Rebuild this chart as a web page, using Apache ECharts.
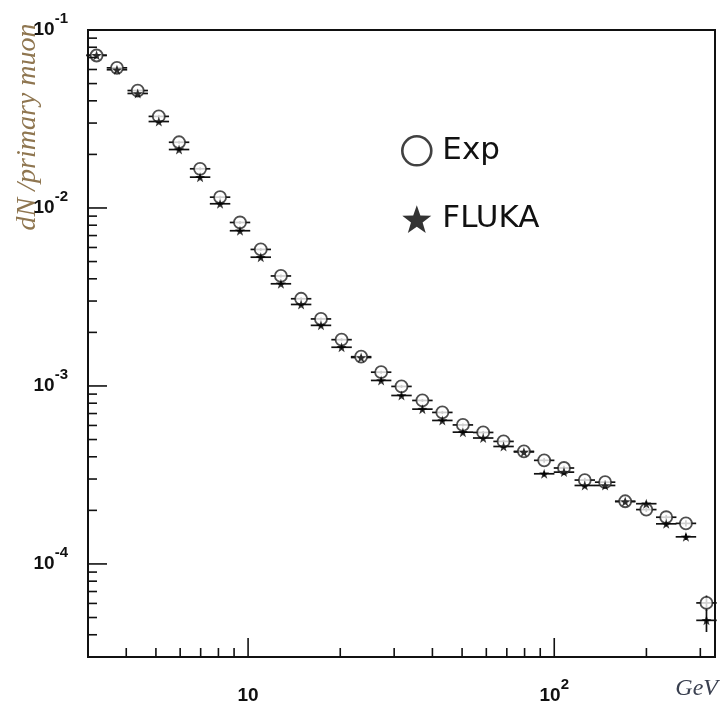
<!DOCTYPE html>
<html><head><meta charset="utf-8">
<script src="https://cdn.jsdelivr.net/npm/echarts@6/dist/echarts.min.js"></script>
<style>html,body{margin:0;padding:0;background:#fff}#c{width:720px;height:715px}</style>
</head><body><div id="c"></div>
<script>
// ---- data ----
const energy = [3.20,3.73,4.36,5.11,5.95,6.97,8.10,9.41,11.0,12.8,14.9,17.3,20.2,23.4,27.2,31.7,37.1,43.1,50.3,58.6,68.3,79.6,92.7,107.6,125.8,146.6,170.5,199.8,232.1,269.2,314.2];
const expValues = [0.0719,0.0613,0.0457,0.0327,0.0234,0.0166,0.0115,0.00829,0.00585,0.00415,0.00309,0.00238,0.00182,0.00146,0.001195,0.000994,0.000829,0.000710,0.000604,0.000548,0.000488,0.000429,0.000382,0.000346,0.000296,0.000288,0.000225,0.000202,0.000183,0.000169,0.0000604];
const flukaValues = [0.0722,0.0598,0.0440,0.0306,0.0213,0.0149,0.01056,0.00745,0.00529,0.00375,0.00287,0.00219,0.00165,0.001445,0.001074,0.000884,0.000741,0.000640,0.000550,0.000510,0.000457,0.000426,0.000321,0.000328,0.000276,0.000276,0.000224,0.000218,0.000168,0.000142,0.0000482];
const expRelErr = [0.02,0.02,0.02,0.02,0.02,0.02,0.02,0.02,0.02,0.02,0.02,0.02,0.02,0.02,0.02,0.02,0.02,0.02,0.02,0.02,0.02,0.02,0.03,0.03,0.03,0.03,0.03,0.03,0.03,0.04,0.10];
const flukaRelErr = [0.02,0.02,0.02,0.02,0.02,0.02,0.02,0.02,0.02,0.02,0.02,0.02,0.02,0.02,0.02,0.02,0.02,0.02,0.02,0.02,0.02,0.02,0.03,0.03,0.03,0.03,0.03,0.03,0.03,0.04,0.14];
const xMajorTicks = [10,100];
const xMinorTicks = [4,5,6,7,8,9,20,30,40,50,60,70,80,90,200,300];
const yMajorTicks = [0.0001,0.001,0.01,0.1];
const yMinorTicks = [0.00004,0.00005,0.00006,0.00007,0.00008,0.00009,0.0002,0.0003,0.0004,0.0005,0.0006,0.0007,0.0008,0.0009,0.002,0.003,0.004,0.005,0.006,0.007,0.008,0.009,0.02,0.03,0.04,0.05,0.06,0.07,0.08,0.09];
const seriesNames = ['Exp','FLUKA'];
const yTitle = 'dN /primary muon';
const xUnit = 'GeV';

// ---- styling constants ----
const X_MIN = 3, X_MAX = 335, Y_MIN = 3e-5, Y_MAX = 0.1;
const BIN = 1.08; // half bin width factor (log scale)
const INK = '#111';
const STAR = 'path://M12,0L14.82,8.12L23.41,8.29L16.57,13.48L19.05,21.71L12,16.8L4.95,21.71L7.43,13.48L0.59,8.29L9.18,8.12Z';

function isDecade(v){ const l = Math.log10(v); return Math.abs(l - Math.round(l)) < 1e-6; }
const richLab = {
  b:{fontFamily:'Liberation Sans', fontWeight:'bold', fontSize:19, color:INK, lineHeight:38, verticalAlign:'middle'},
  s:{fontFamily:'Liberation Sans', fontWeight:'bold', fontSize:15, color:INK, lineHeight:11, verticalAlign:'top'}
};

function tickSeries(dim, values, len){
  return {
    type:'custom', silent:true, clip:false, z:4, animation:false,
    data: values.map(v => dim === 'y' ? [X_MIN, v] : [v, Y_MIN]),
    encode:{x:0, y:1},
    renderItem:(params, api) => {
      const p = api.coord([api.value(0), api.value(1)]);
      const shape = dim === 'y' ? {x1:p[0], y1:p[1], x2:p[0]+len, y2:p[1]} : {x1:p[0], y1:p[1], x2:p[0], y2:p[1]-len};
      return {type:'line', shape, style:{stroke:INK, lineWidth:1.6}};
    }
  };
}

function errSeries(vals, rel){
  return {
    type:'custom', silent:true, clip:false, z:2, animation:false,
    data: energy.map((e,i) => [e, vals[i], e/BIN, e*BIN, vals[i]*(1-rel[i]), vals[i]*(1+rel[i])]),
    encode:{x:0, y:1},
    renderItem:(params, api) => {
      const y = api.value(1), x = api.value(0);
      const l = api.coord([api.value(2), y]);
      const r = api.coord([api.value(3), y]);
      const b = api.coord([x, api.value(4)]);
      const t = api.coord([x, api.value(5)]);
      return {type:'group', children:[
        {type:'line', shape:{x1:l[0], y1:l[1], x2:r[0], y2:r[1]}, style:{stroke:INK, lineWidth:1.7}},
        {type:'line', shape:{x1:b[0], y1:b[1], x2:t[0], y2:t[1]}, style:{stroke:INK, lineWidth:1.7}}
      ]};
    }
  };
}

const chart = echarts.init(document.getElementById('c'), null, {renderer:'canvas'});
chart.setOption({
  animation:false,
  backgroundColor:'#fff',
  grid:{left:88, right:5, top:30, bottom:58, show:true, borderColor:INK, borderWidth:2, backgroundColor:'transparent'},
  xAxis:{
    type:'log', logBase:10, min:X_MIN, max:X_MAX,
    axisLine:{show:true, lineStyle:{color:INK, width:2}},
    axisTick:{show:false}, splitLine:{show:false}, minorTick:{show:false},
    axisLabel:{margin:20, rich:richLab, formatter:v => {
      if (!isDecade(v)) return '';
      const e = Math.round(Math.log10(v));
      return e === 1 ? '{b|10}' : '{b|10}{s|' + e + '}';
    }}
  },
  yAxis:{
    type:'log', logBase:10, min:Y_MIN, max:Y_MAX,
    axisLine:{show:true, lineStyle:{color:INK, width:2}},
    axisTick:{show:false}, splitLine:{show:false}, minorTick:{show:false},
    axisLabel:{margin:20, rich:richLab, formatter:v => {
      if (!isDecade(v)) return '';
      const e = Math.round(Math.log10(v));
      return '{b|10}{s|' + e + '}';
    }}
  },
  legend:{
    orient:'vertical', left:396, top:130, itemWidth:29, itemHeight:29, itemGap:37,
    selectedMode:false,
    textStyle:{fontFamily:'DejaVu Sans', fontSize:31, color:INK, lineHeight:29, padding:[0,0,0,6]},
    data:[
      {name:seriesNames[0], icon:'circle', itemStyle:{color:'#fff', borderColor:INK, borderWidth:2.6}},
      {name:seriesNames[1], icon:STAR, itemStyle:{color:'#000', borderWidth:0}}
    ]
  },
  graphic:[
    {type:'text', x:28, y:127, rotation:Math.PI/2, silent:true,
     style:{text:yTitle, font:'italic 28px "Liberation Serif"', fill:'#8f7650', align:'center', verticalAlign:'middle'}},
    {type:'text', x:718, y:689, silent:true,
     style:{text:xUnit, font:'italic 24px "Liberation Serif"', fill:'#3a4050', align:'right', verticalAlign:'middle'}}
  ],
  series:[
    tickSeries('y', yMajorTicks, 19),
    tickSeries('y', yMinorTicks, 9),
    tickSeries('x', xMajorTicks, 19),
    tickSeries('x', xMinorTicks, 9),
    errSeries(expValues, expRelErr),
    {name:seriesNames[0], type:'scatter', z:3, symbol:'circle', symbolSize:12,
     itemStyle:{color:'#fff', borderColor:'#222', borderWidth:1.8},
     emphasis:{disabled:true},
     data: energy.map((e,i) => [e, expValues[i]])},
    errSeries(flukaValues, flukaRelErr),
    {name:seriesNames[1], type:'scatter', z:3, symbol:STAR, symbolSize:10,
     itemStyle:{color:'#000'},
     emphasis:{disabled:true},
     data: energy.map((e,i) => [e, flukaValues[i]])}
  ]
});
</script>
</body></html>
